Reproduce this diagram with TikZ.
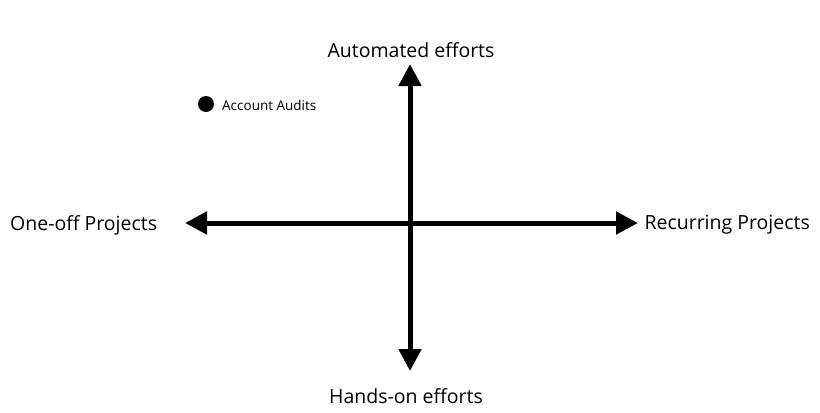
\documentclass[tikz,border=0pt]{standalone}
\usepackage{fontspec}
\setmainfont{Open Sans}
\usetikzlibrary{arrows.meta}
\tikzset{
  axis/.style={line width=5bp,{Triangle[length=22bp,width=22bp]}-{Triangle[length=22bp,width=22bp]}},
  lab/.style={font=\fontsize{19.5bp}{22bp}\selectfont,inner sep=0pt},
  small/.style={font=\fontsize{13.5bp}{16bp}\selectfont,inner sep=0pt,anchor=west}
}
\begin{document}
\begin{tikzpicture}[x=1bp,y=-1bp]
\useasboundingbox[fill=white] (0,0) rectangle (820,412);
\coordinate (l) at (185,223);
\coordinate (r) at (638,223);
\coordinate (t) at (410,64);
\coordinate (b) at (410,371);
\draw[axis] (l) -- (r);
\draw[axis] (b) -- (t);
\node[lab] (top) at (411,50) {Automated efforts};
\node[lab] (bot) at (406,396) {Hands-on efforts};
\node[lab,anchor=west] (left) at (10,225) {One-off Projects};
\node[lab,anchor=east] (right) at (810,225) {Recurring Projects};
\node[circle,fill=black,minimum size=16bp,inner sep=0pt] (dot) at (206,104) {};
\node[small] (aa) at (222,105) {Account Audits};
\end{tikzpicture}
\end{document}
